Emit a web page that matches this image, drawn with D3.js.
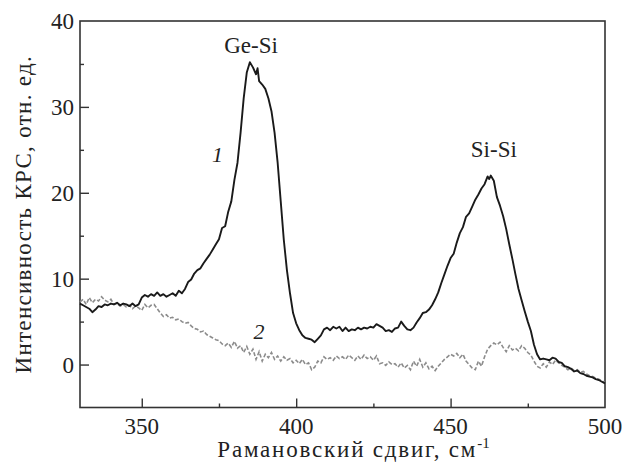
<!DOCTYPE html>
<html>
<head>
<meta charset="utf-8">
<script src="https://cdn.jsdelivr.net/npm/d3@7"></script>
<style>
  body { margin: 0; background: #fff; }
</style>
</head>
<body>
<div id="chart"></div>
<script>
// Raman spectra, curve 1 (solid) and curve 2 (dashed)

// Raman shift, cm-1, curve 1
const shift1 = [330, 331, 332, 333, 334, 335, 336, 337, 338, 339, 340, 341, 342, 343, 344, 345, 346, 347, 348, 349,
  350, 351, 352, 353, 354, 355, 356, 357, 358, 359, 360, 361, 362, 363, 364, 365, 366, 367, 368, 369,
  370, 371, 372, 373, 374, 375, 376, 377, 378, 379, 380, 381, 382, 383, 384, 385, 386, 387, 387.5, 388, 389,
  390, 391, 392, 393, 394, 395, 396, 397, 398, 399, 400, 401, 402, 403, 404, 405, 406, 407, 408, 409,
  410, 411, 412, 413, 414, 415, 416, 417, 418, 419, 420, 421, 422, 423, 424, 425, 426, 427, 428, 429,
  430, 431, 432, 433, 434, 435, 436, 437, 438, 439, 440, 441, 442, 443, 444, 445, 446, 447, 448, 449,
  450, 451, 452, 453, 454, 455, 456, 457, 458, 459, 460, 461, 462, 462.5, 463, 464, 465, 466, 467, 468, 469,
  470, 471, 472, 473, 474, 475, 476, 477, 478, 479, 480, 481, 482, 483, 484, 485, 486, 487, 488, 489,
  490, 491, 492, 493, 494, 495, 496, 497, 498, 499, 500];
const intensity1 = [7.1, 6.9, 6.7, 6.5, 6.1, 6.4, 6.8, 6.7, 7.0, 6.9, 7.1, 7.0, 7.2, 6.9, 7.1, 7.0, 6.8, 7.1, 6.8, 7.0,
  7.8, 8.1, 7.9, 8.2, 8.0, 8.4, 8.0, 8.2, 7.9, 8.1, 8.3, 8.0, 8.6, 8.3, 8.8, 9.6, 9.9, 10.6, 11.0, 11.2,
  11.8, 12.3, 12.8, 13.4, 14.0, 14.6, 15.9, 16.1, 17.8, 19.0, 21.5, 23.5, 27.0, 31.0, 34.0, 35.2, 34.6, 33.8, 34.5, 33.0, 32.6,
  32.1, 31.0, 29.5, 27.0, 23.5, 19.0, 14.5, 11.0, 8.3, 6.0, 4.8, 4.0, 3.4, 3.1, 3.0, 2.9, 2.6, 3.0, 3.4, 4.1,
  4.3, 4.0, 4.4, 4.2, 4.4, 3.9, 4.3, 3.9, 4.1, 4.0, 4.3, 4.1, 4.3, 4.2, 4.4, 4.3, 4.7, 4.5, 4.3, 3.9,
  4.0, 3.8, 4.2, 4.3, 5.0, 4.5, 4.1, 4.0, 4.3, 4.9, 5.4, 6.0, 6.1, 6.4, 6.9, 7.6, 8.4, 9.5, 10.5, 11.5,
  12.4, 12.9, 14.2, 15.3, 16.0, 17.2, 17.6, 18.4, 19.2, 19.8, 20.5, 21.0, 21.9, 21.6, 22.0, 21.4, 19.5, 18.5, 17.3, 15.8, 14.0,
  12.3, 10.5, 8.8, 7.5, 6.2, 5.0, 3.9, 2.3, 1.2, 0.6, 0.7, 0.6, 0.5, 0.8, 0.7, 0.3, 0.2, -0.2, -0.3, -0.5,
  -0.8, -0.7, -1.0, -1.1, -1.3, -1.4, -1.5, -1.7, -1.8, -2.0, -2.2];

// Raman shift, cm-1, curve 2 (one value per cm-1)
const shift2 = d3.range(330, 501);
const intensity2 = [7.3, 7.6, 7.0, 7.8, 7.2, 7.6, 7.4, 7.9, 7.5, 7.3, 7.6, 7.0, 7.1, 6.8, 7.0, 6.7, 6.9, 6.5, 6.8, 6.6,
  6.3, 7.0, 6.6, 6.9, 7.0, 6.5, 6.0, 5.6, 5.8, 5.4, 5.5, 5.2, 5.3, 5.0, 4.8, 4.9, 4.5, 4.2, 4.1, 3.8,
  3.9, 3.5, 3.3, 3.1, 2.9, 2.8, 2.4, 2.2, 2.5, 2.0, 2.7, 1.9, 2.2, 1.4, 2.1, 1.2, 1.8, 0.6, 1.5, 0.4,
  1.2, 0.8, 1.4, 0.6, 1.0, 0.4, 0.9, 0.5, 0.7, 0.2, 0.5, 0.1, 0.6, 0.0, 0.2, -0.6, -0.3, 0.4, 0.2, 0.9,
  0.6, 0.8, 0.5, 1.0, 0.7, 0.9, 0.6, 1.1, 0.8, 0.5, 1.0, 0.6, 1.1, 0.7, 0.9, 0.5, 1.0, 0.1, 0.2, -0.1,
  0.3, 0.0, 0.1, -0.3, 0.2, -0.4, -0.1, -0.6, 0.4, -0.2, 0.6, -0.3, 0.2, -0.5, -0.2, -0.7, -0.2, 0.2, 0.6, 0.9,
  1.2, 1.0, 1.3, 0.8, 1.2, 0.4, 0.0, -0.4, -0.6, 0.4, -0.2, 0.9, 1.8, 2.2, 2.5, 2.3, 2.6, 2.0, 1.5, 2.2,
  1.7, 1.9, 1.6, 2.2, 1.9, 1.4, 1.1, 0.4, -0.2, -0.4, 0.1, -0.3, 0.3, 0.0, 0.5, 0.2, -0.1, -0.3, -0.6, -0.4,
  -0.7, -0.6, -0.9, -0.8, -1.1, -1.3, -1.4, -1.6, -1.7, -1.9, -2.1];

const xTicks = [350, 400, 450, 500];
const yTicks = [0, 10, 20, 30, 40];

const W = 624, H = 469;
const m = { t: 21, r: 19, b: 61.5, l: 80 };
const serif = "'Liberation Serif', 'Times New Roman', Tinos, 'DejaVu Serif', 'Noto Serif', serif";

const svg = d3.select("#chart").append("svg")
  .attr("width", W)
  .attr("height", H)
  .attr("font-family", serif);

const x = d3.scaleLinear().domain([330, 500]).range([m.l, W - m.r]);
const y = d3.scaleLinear().domain([-5, 40]).range([H - m.b, m.t]);

// frame
svg.append("rect")
  .attr("x", x(330)).attr("y", y(40))
  .attr("width", x(500) - x(330)).attr("height", y(-5) - y(40))
  .attr("fill", "none").attr("stroke", "#333").attr("stroke-width", 1.6);

// bottom axis, ticks pointing inward
const gx = svg.append("g").attr("transform", "translate(0," + y(-5) + ")");
gx.call(d3.axisBottom(x).tickValues(d3.range(350, 500, 25)).tickSize(-4).tickFormat(""));
gx.call(g => g.selectAll(".tick").filter(d => d % 50 === 0).select("line").attr("y2", -9));
gx.selectAll(".tick line").attr("stroke", "#333").attr("stroke-width", 1.4);
gx.select(".domain").remove();
gx.attr("font-family", serif);
gx.selectAll(".lbl").data(xTicks).enter().append("text")
  .attr("x", d => x(d)).attr("y", 26)
  .attr("text-anchor", "middle")
  .attr("font-size", 23)
  .attr("fill", "#222")
  .text(d => d);

// left axis
const gy = svg.append("g").attr("transform", "translate(" + x(330) + ",0)");
gy.call(d3.axisLeft(y).tickValues(d3.range(-5, 40, 5).filter(d => d > -5)).tickSize(-4).tickFormat(""));
gy.call(g => g.selectAll(".tick").filter(d => d % 10 === 0).select("line").attr("x2", 9));
gy.selectAll(".tick line").attr("stroke", "#333").attr("stroke-width", 1.4);
gy.select(".domain").remove();
gy.attr("font-family", serif);
gy.selectAll(".lbl").data(yTicks).enter().append("text")
  .attr("x", -6).attr("y", d => y(d))
  .attr("dy", "0.35em")
  .attr("text-anchor", "end")
  .attr("font-size", 23)
  .attr("fill", "#222")
  .text(d => d);

// curves
const line = d3.line().x(d => x(d[0])).y(d => y(d[1]));

svg.append("path")
  .datum(d3.zip(shift2, intensity2))
  .attr("d", line)
  .attr("fill", "none")
  .attr("stroke", "#8c8c8c")
  .attr("stroke-width", 1.6)
  .attr("stroke-dasharray", "4,2");

svg.append("path")
  .datum(d3.zip(shift1, intensity1))
  .attr("d", line)
  .attr("fill", "none")
  .attr("stroke", "#1a1a1a")
  .attr("stroke-width", 1.9)
  .attr("stroke-linejoin", "round");

// annotations
const note = (xv, yv, txt, italic) => svg.append("text")
  .attr("x", x(xv)).attr("y", y(yv))
  .attr("text-anchor", "middle")
  .attr("font-size", italic ? 22 : 23)
  .attr("font-style", italic ? "italic" : "normal")
  .attr("fill", "#222")
  .text(txt);
note(385.4, 36.3, "Ge-Si", false);
note(464, 24.2, "Si-Si", false);
note(374.5, 23.6, "1", true);
note(388, 3.0, "2", true);

// axis titles
const xt = svg.append("text")
  .attr("x", (x(330) + x(500)) / 2 + 11).attr("y", 457)
  .attr("text-anchor", "middle")
  .attr("font-size", 23)
  .attr("letter-spacing", 1.8)
  .attr("fill", "#222")
  .text("Рамановский сдвиг, см");
xt.append("tspan").attr("dy", -9).attr("font-size", 15).attr("letter-spacing", 0).text("-1");

svg.append("text")
  .attr("transform", "translate(31," + (y(-5) + y(40)) / 2 + ") rotate(-90)")
  .attr("text-anchor", "middle")
  .attr("font-size", 23)
  .attr("letter-spacing", 1.3)
  .attr("fill", "#222")
  .text("Интенсивность КРС, отн. ед.");
</script>
</body>
</html>
